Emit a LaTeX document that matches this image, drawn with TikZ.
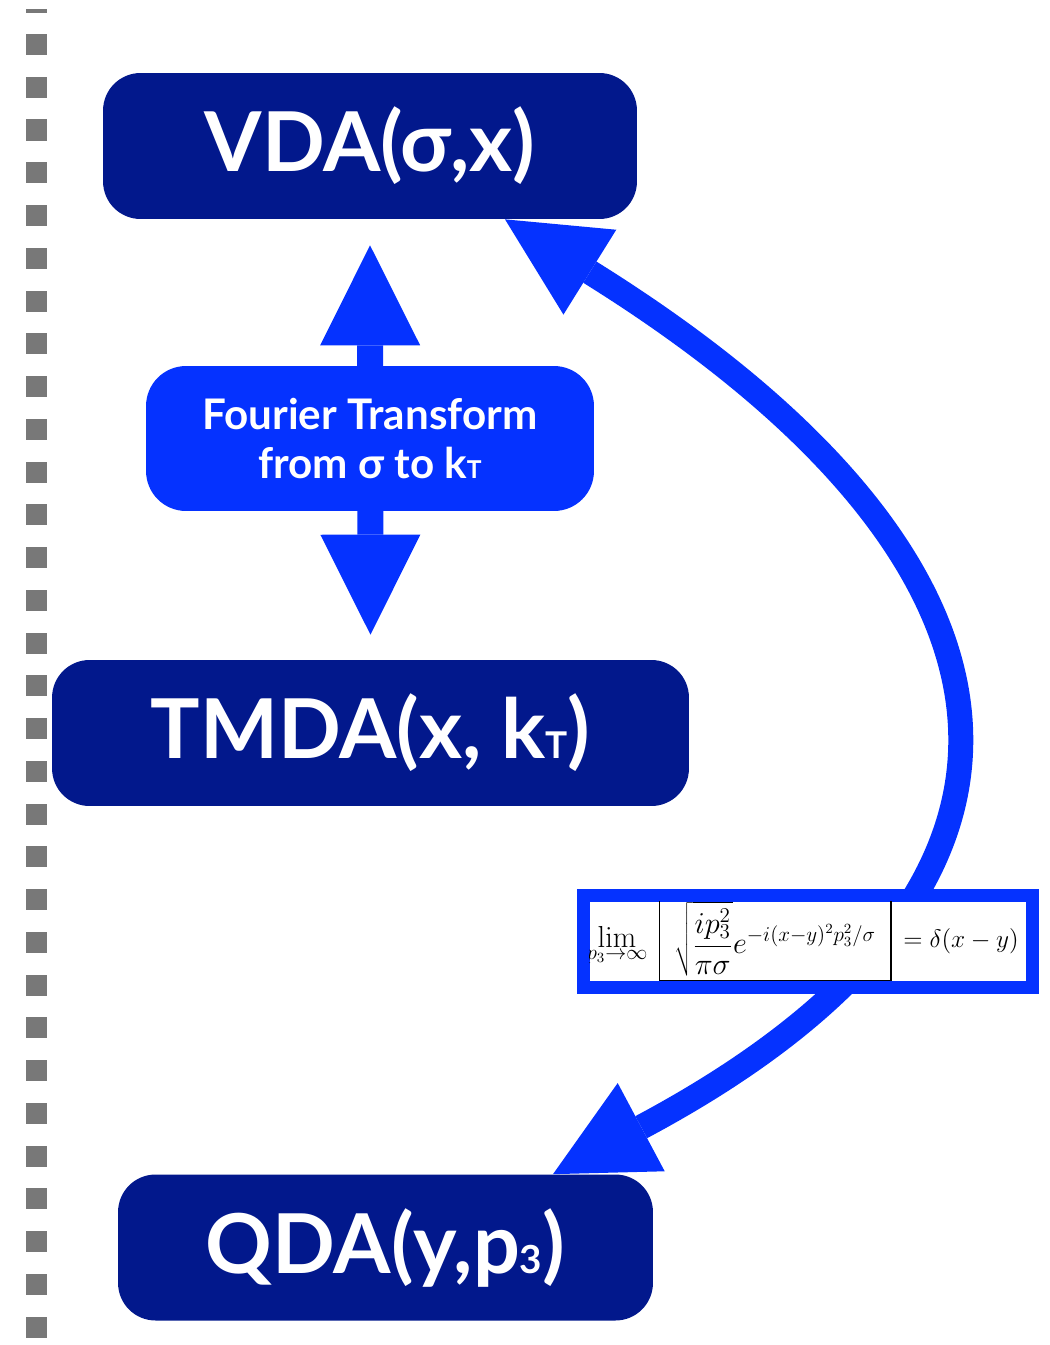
\documentclass[tikz,border=0pt]{standalone}
\usepackage[no-math]{fontspec}
\setmainfont{Lato}
\usetikzlibrary{arrows.meta}

\definecolor{navybox}{RGB}{2,24,140}
\definecolor{brightblue}{RGB}{5,50,255}
\definecolor{squaregray}{RGB}{120,120,120}

\tikzset{
    bigbox/.style={fill=navybox, rounded corners=0.75cm, text=white, minimum height=2.92cm, inner sep=0pt, font=\fontsize{47}{56}\selectfont\bfseries},
    fourierbox/.style={fill=brightblue, rounded corners=0.8cm, text=white, minimum width=8.96cm, minimum height=2.9cm, align=center, font=\fontsize{24}{28}\selectfont\bfseries},
    fattip/.tip={Triangle[length=2cm, width=2cm, line width=0pt]},
    dblarrow/.style={draw=brightblue, line width=0.52cm, fattip-fattip},
    curvearrow/.style={draw=brightblue, line width=0.5cm, fattip-fattip},
    fmlframe/.style={draw=brightblue, fill=white, line width=0.26cm, outer sep=0pt, minimum width=9cm, minimum height=1.84cm},
    fmltext/.style={inner sep=0pt, font=\fontsize{16.5}{20}\selectfont}
}

\begin{document}
\begin{tikzpicture}[x=0.02cm, y=-0.02cm]
    \useasboundingbox (0,0) rectangle (1049,1345);

    % dotted margin line
    \fill[squaregray] (26,9) rectangle (47,13);
    \foreach \k in {0,...,30}
        \fill[squaregray] (26,{34+42.75*\k}) rectangle +(21,21);

    % the three distributions
    \node[bigbox, minimum width=10.68cm] (vda) at (370,146) {VDA(σ,x)};
    \node[bigbox, minimum width=12.74cm] (tmda) at (370.5,733) {TMDA(x, k{\fontsize{21}{21}\selectfont T})};
    \node[bigbox, minimum width=10.7cm] (qda) at (385.5,1247.5) {QDA(y,p{\fontsize{22}{22}\selectfont 3})};

    % fourier transform link
    \draw[dblarrow, shorten <=0.52cm, shorten >=0.5cm] (vda.south) -- (tmda.north);
    \node[fourierbox] (fourier) at (370,438.5) {Fourier Transform\\from σ to k{\fontsize{14}{14}\selectfont T}};

    % limit link
    \draw[curvearrow] ([xshift=3.35cm]qda.north) .. controls (1107,879) and (1041,553) .. ([xshift=2.7cm]vda.south);

    \node[fmlframe] (fml) at (808,941) {};
    \begin{scope}
        \clip ([shift={(0.13cm,-0.13cm)}]fml.north west) rectangle ([shift={(-0.13cm,0.13cm)}]fml.south east);
        \node[fmltext, anchor=base] (lim) at (617,947) {$\lim\limits_{p_3\to\infty}$};
        \node[fmltext, draw=black, line width=0.6pt, minimum width=4.64cm, minimum height=1.66cm] (root) at (775,939)
            {$\displaystyle\sqrt{\frac{ip_3^2}{\pi\sigma}}e^{-i(x-y)^2p_3^2/\sigma}$};
        \node[fmltext, font=\fontsize{15.5}{19}\selectfont, anchor=base west] (delta) at (903,947) {$=\delta(x-y)$};
    \end{scope}
\end{tikzpicture}
\end{document}
